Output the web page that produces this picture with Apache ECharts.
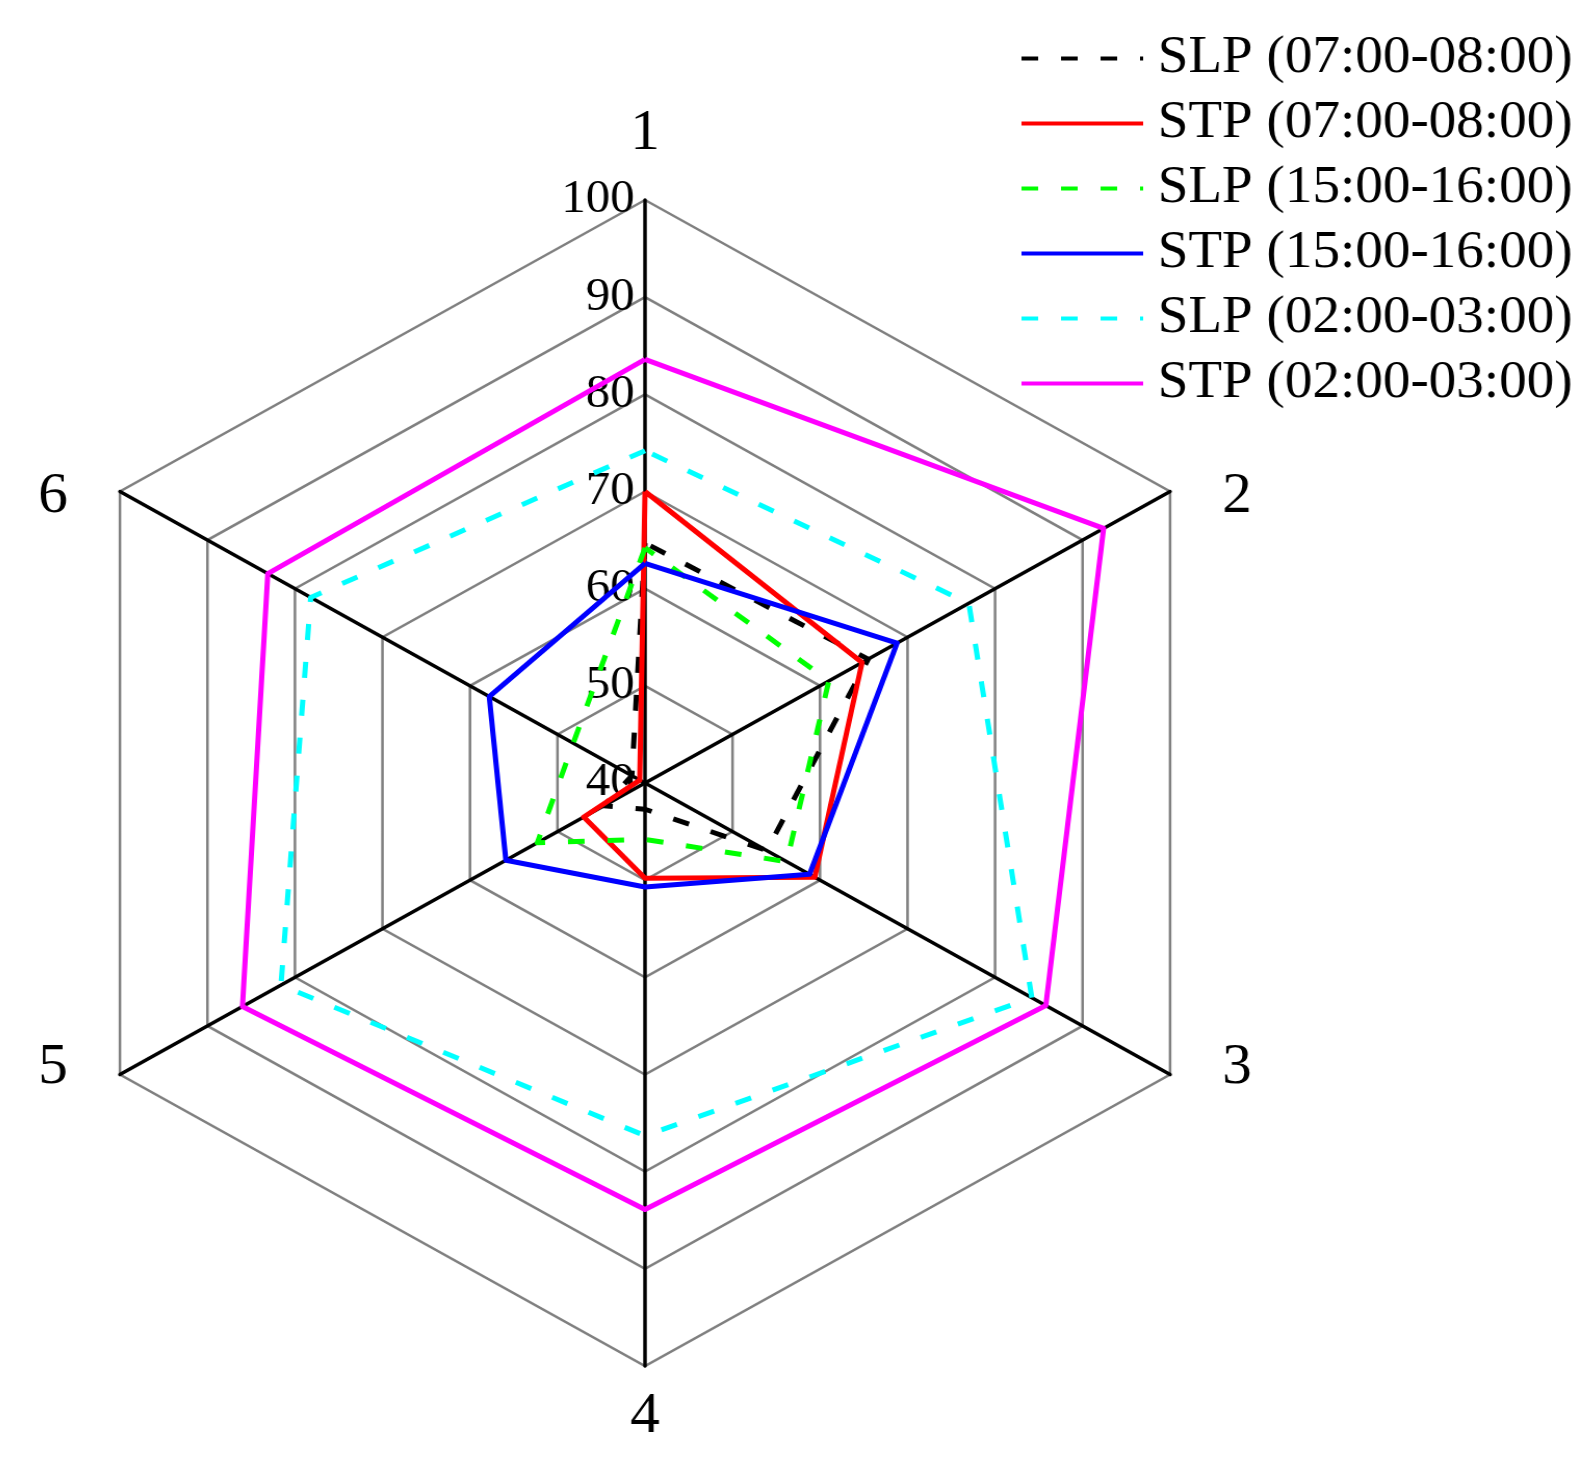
<!DOCTYPE html>
<html>
<head>
<meta charset="utf-8">
<script src="https://cdn.jsdelivr.net/npm/echarts@6/dist/echarts.min.js"></script>
<style>
  html, body { margin: 0; padding: 0; background: #fff; overflow: hidden; }
  /* the original figure is stretched a little horizontally */
  #chart { width: 1589px; height: 1458px; transform: scaleX(1.04); transform-origin: 645px 0; }
</style>
</head>
<body>
<div id="chart"></div>
<script>
// axes in clockwise order starting at the top
const axisNames = ["1", "2", "3", "4", "5", "6"];
const axisMin = 40;
const axisMax = 100;
const ringCount = 6;

const seriesNames = [
  "SLP (07:00-08:00)",
  "STP (07:00-08:00)",
  "SLP (15:00-16:00)",
  "STP (15:00-16:00)",
  "SLP (02:00-03:00)",
  "STP (02:00-03:00)",
];

const slpMorning = [64.7, 65.5, 53.9, 42.7, 44.7, 41.5];
const stpMorning = [70.0, 64.8, 59.4, 49.8, 47.0, 40.6];
const slpAfternoon = [64.2, 61.0, 56.2, 45.8, 52.3, 48.2];
const stpAfternoon = [62.6, 68.8, 58.8, 50.7, 55.9, 57.8];
const slpNight = [74.2, 77.0, 84.2, 76.3, 81.6, 78.2];
const stpNight = [83.6, 92.4, 85.8, 83.9, 86.0, 83.1];

const seriesValues = [slpMorning, stpMorning, slpAfternoon, stpAfternoon, slpNight, stpNight];
const colors = ["#000000", "#ff0000", "#00ff00", "#0000ff", "#00ffff", "#ff00ff"];
const dashed = [true, false, true, false, true, false];

// echarts lays radar axes counter-clockwise, so walk them backwards after the first
const order = [0, 5, 4, 3, 2, 1];

// gap between the outer ring and each axis name
const nameGaps = { "1": 31, "2": 58, "3": 58, "4": 16, "5": 58, "6": 58 };

const font = "Liberation Serif";
const chart = echarts.init(document.getElementById("chart"), null, { renderer: "canvas" });

const indicator = order.map((i) => {
  const name = axisNames[i];
  const ind = { name, min: axisMin, max: axisMax, nameGap: nameGaps[name] };
  if (i === 0) {
    ind.axisLabel = {
      show: true,
      color: "#000",
      fontFamily: font,
      fontSize: 47,
      margin: 10,
      align: "right",
      verticalAlign: "middle",
      padding: [9, 0, 0, 0],
    };
  }
  return ind;
});

const lineStyleFor = (k) => ({
  color: colors[k],
  width: 5,
  type: dashed[k] ? [16, 22] : "solid",
});

// empty line series only give the legend its line icons
const legendSeries = seriesNames.map((name, k) => ({
  name,
  type: "line",
  xAxisIndex: 0,
  yAxisIndex: 0,
  symbol: "none",
  data: [],
  color: colors[k],
  lineStyle: lineStyleFor(k),
}));

const radarSeries = seriesNames.map((name, k) => ({
  name,
  type: "radar",
  symbol: "none",
  color: colors[k],
  lineStyle: lineStyleFor(k),
  data: [{ name, value: order.map((i) => seriesValues[k][i]) }],
}));

chart.setOption({
  backgroundColor: "#fff",
  animation: false,
  grid: { show: false, left: 0, top: 0, width: 1, height: 1 },
  xAxis: { type: "value", show: false },
  yAxis: { type: "value", show: false },
  legend: {
    orient: "vertical",
    left: 1000,
    top: 27,
    itemWidth: 117,
    itemHeight: 14,
    itemGap: 12,
    data: seriesNames,
    itemStyle: { opacity: 0 },
    lineStyle: { width: 4 },
    textStyle: {
      color: "#000",
      fontFamily: font,
      fontSize: 53,
      padding: [0, 0, 0, 9],
    },
  },
  radar: {
    center: [645, 783],
    radius: 583,
    shape: "polygon",
    splitNumber: ringCount,
    indicator,
    axisName: {
      color: "#000",
      fontFamily: font,
      fontSize: 57,
      lineHeight: 70,
      // side names sit level with the corner (upper) or a bit above it (lower)
      formatter: (name) =>
        name === "2" || name === "6" ? "\n" + name : name === "3" || name === "5" ? name + "\n" : name,
    },
    axisLine: { lineStyle: { color: "#000", width: 3.5 } },
    splitLine: { lineStyle: { color: "#808080", width: 2.5 } },
    splitArea: { show: false },
    axisTick: { show: false },
    axisLabel: { show: false },
  },
  series: [...legendSeries, ...radarSeries],
});
</script>
</body>
</html>
